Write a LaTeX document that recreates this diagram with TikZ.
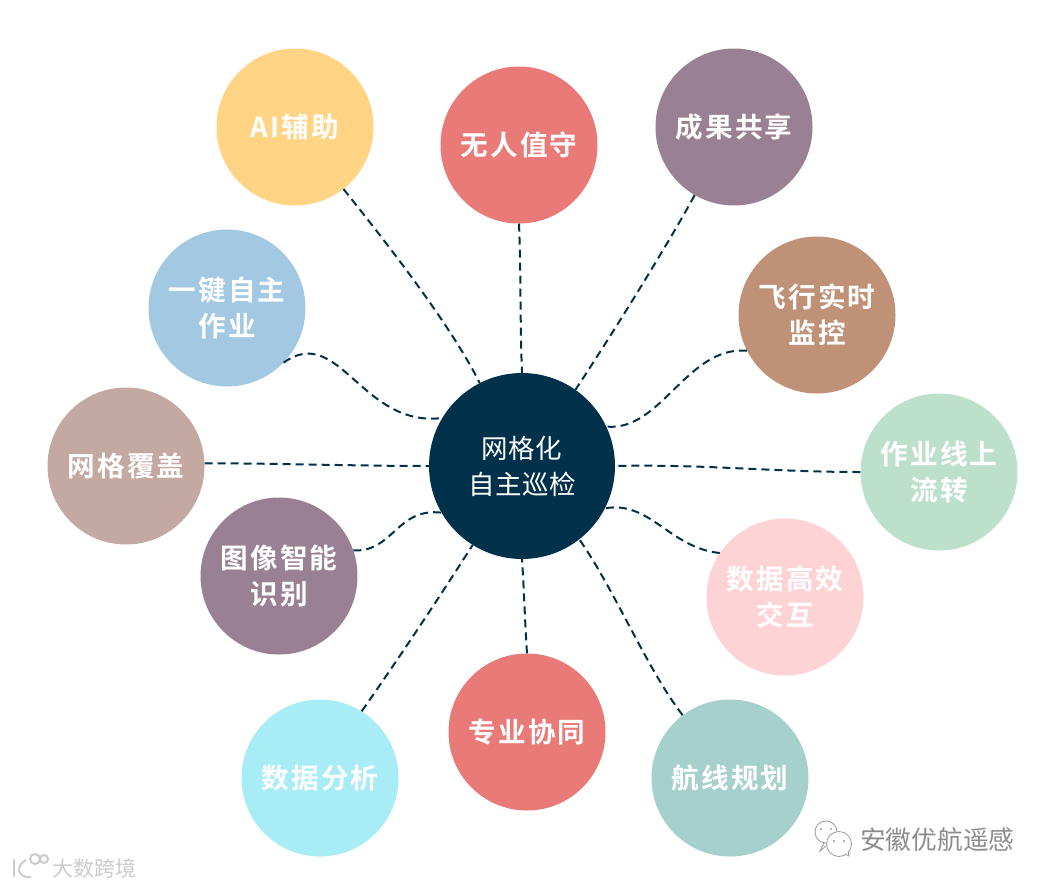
\documentclass[tikz,border=0pt]{standalone}
\usepackage{fontspec}
\setmainfont{Noto Sans CJK SC}
\newfontfamily\leaffont[LetterSpace=8]{Noto Sans CJK SC Bold}
\newfontfamily\hubfont[LetterSpace=2]{Noto Sans CJK SC}
\newfontfamily\markfont{Noto Sans CJK SC}
\definecolor{hubc}{HTML}{00314B}
\definecolor{yel}{HTML}{FFD485}
\definecolor{red}{HTML}{EA7A78}
\definecolor{plum}{HTML}{9A8093}
\definecolor{tan}{HTML}{BF9278}
\definecolor{mint}{HTML}{BDE0CC}
\definecolor{pinkc}{HTML}{FDD3D5}
\definecolor{teal}{HTML}{A5D0CB}
\definecolor{aqua}{HTML}{A8ECF5}
\definecolor{taupe}{HTML}{C4A8A2}
\definecolor{sky}{HTML}{A2C8E2}
\tikzset{
  x=1pt,y=-1pt,
  leaf/.style={circle,minimum size=157pt,inner sep=0pt,text=white,align=center,
    font=\leaffont\fontsize{27.6}{36}\selectfont},
  hub/.style={circle,fill=hubc,minimum size=186pt,inner sep=0pt,text=white,align=center,
    font=\hubfont\fontsize{26.5}{36}\selectfont},
  link/.style={draw=hubc,line width=2pt,dash pattern=on 8pt off 5pt},
  wm/.style={inner sep=0pt,text=black!45,font=\markfont\fontsize{25.7}{30}\selectfont},
  wmb/.style={inner sep=0pt,text=black!20,font=\markfont\fontsize{21}{24}\selectfont},
  bubble/.style={draw=black!40,fill=white,line width=.8pt},
  logo/.style={draw=black!20,line width=2pt,fill=none}
}
\begin{document}
\begin{tikzpicture}
\useasboundingbox (0,0) rectangle (1050,887);
\fill[white] (0,0) rectangle (1050,887);
\node[hub] (hubn) at (522,466) {网格化\\自主巡检};
\node[leaf,fill=yel] (ai) at (295,127) {AI辅助};
\node[leaf,fill=red] (wr) at (519,145) {无人值守};
\node[leaf,fill=plum] (cg) at (734,127) {成果共享};
\node[leaf,fill=tan] (fx) at (817,315) {飞行实时\\监控};
\node[leaf,fill=mint] (zy) at (939,472) {作业线上\\流转};
\node[leaf,fill=pinkc] (sj) at (785,597) {数据高效\\交互};
\node[leaf,fill=teal] (hx) at (730,778) {航线规划};
\node[leaf,fill=red] (zx) at (527,732) {专业协同};
\node[leaf,fill=aqua] (fx2) at (320,778) {数据分析};
\node[leaf,fill=plum] (tx) at (279,576) {图像智能\\识别};
\node[leaf,fill=taupe] (wg) at (126,466) {网格覆盖};
\node[leaf,fill=sky] (yj) at (227,308) {一键自主\\作业};
\draw[link] (ai.-52.7) .. controls +(40,50) and +(-30,-60) .. (hubn.117.6);
\draw[link] (wr.-90) .. controls +(2,50) and +(-2,-50) .. (hubn.90);
\draw[link] (cg.-120.5) .. controls +(-30,55) and +(30,-45) .. (hubn.55.3);
\draw[link] (fx.207.9) .. controls +(-60,-5) and +(55,5) .. (hubn.25.2);
\draw[link] (zy.180) .. controls +(-90,0) and +(90,-2) .. (hubn.0);
\draw[link] (sj.146.5) .. controls +(-50,-5) and +(45,-8) .. (hubn.-27.6);
\draw[link] (hx.127.3) .. controls +(-35,-45) and +(35,50) .. (hubn.-52.3);
\draw[link] (zx.90) .. controls +(-2,-30) and +(2,30) .. (hubn.-90);
\draw[link] (fx2.58.3) .. controls +(35,-50) and +(-35,55) .. (hubn.-122);
\draw[link] (tx.19.7) .. controls +(40,2) and +(-45,-5) .. (hubn.-150);
\draw[link] (wg.2) .. controls +(70,0) and +(-70,0) .. (hubn.180);
\draw[link] (yj.-44.5) .. controls +(55,-40) and +(-80,10) .. (hubn.149);
% watermarks
\draw[bubble] (826,832) circle (11);
\draw[bubble] (826,846) -- (820,851) -- (824,843);
\draw[bubble] (839,844) circle (12.5);
\draw[bubble] (845,854) -- (849,856) -- (848,851);
\fill[black!40] (821,829) circle (1.2) (831,829) circle (1.2) (834,841) circle (1.2) (844,841) circle (1.2);
\node[wm,anchor=west] (wmtext) at (860,840) {安徽优航遥感};
\draw[logo] (14,859) -- (14,877);
\draw[logo] (26,860) .. controls (15,866) and (17,878) .. (31,877);
\draw[logo] (35,859) circle (5);
\draw[logo] (44,859) circle (4);
\node[wmb,anchor=west] (wmtext2) at (52,868) {大数跨境};
\end{tikzpicture}
\end{document}
